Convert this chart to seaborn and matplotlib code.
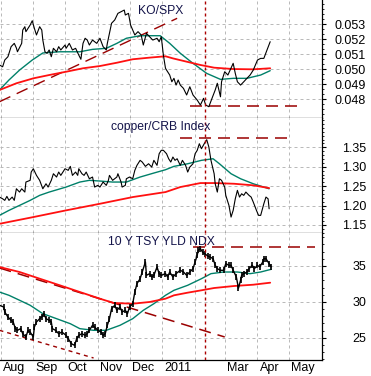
import pandas as pd
import numpy as np
import seaborn as sns
import matplotlib.pyplot as plt
import matplotlib.dates as mdates
from matplotlib.ticker import FixedLocator, MultipleLocator, AutoMinorLocator, FormatStrFormatter
from matplotlib.transforms import ScaledTranslation

# ---- data ----
ko_dates = ['2010-07-31','2010-08-03','2010-08-05','2010-08-08','2010-08-11','2010-08-14','2010-08-16','2010-08-17',
            '2010-08-21','2010-08-22','2010-08-24','2010-08-25','2010-08-29','2010-08-31','2010-09-02','2010-09-04',
            '2010-09-07','2010-09-09','2010-09-10','2010-09-12','2010-09-14','2010-09-16','2010-09-18','2010-09-20',
            '2010-09-23','2010-09-25','2010-09-27','2010-10-01','2010-10-02','2010-10-05','2010-10-08','2010-10-11',
            '2010-10-14','2010-10-16','2010-10-18','2010-10-20','2010-10-22','2010-10-24','2010-10-27','2010-10-31',
            '2010-11-03','2010-11-06','2010-11-09','2010-11-10','2010-11-12','2010-11-14','2010-11-17','2010-11-20',
            '2010-11-23','2010-11-26','2010-11-27','2010-11-30','2010-12-02','2010-12-04','2010-12-06','2010-12-09',
            '2010-12-12','2010-12-14','2010-12-17','2010-12-20','2010-12-23','2010-12-27','2010-12-29','2010-12-31',
            '2011-01-02','2011-01-04','2011-01-05','2011-01-08','2011-01-10','2011-01-12','2011-01-14','2011-01-16',
            '2011-01-18','2011-01-21','2011-01-24','2011-01-27','2011-01-30','2011-02-03','2011-02-06','2011-02-09',
            '2011-02-11','2011-02-14','2011-02-17','2011-02-20','2011-02-22','2011-02-25','2011-02-26','2011-03-01',
            '2011-03-04','2011-03-09','2011-03-11','2011-03-13','2011-03-16','2011-03-19','2011-03-22','2011-03-25',
            '2011-03-28','2011-04-01','2011-04-04','2011-04-07','2011-04-10','2011-04-13']
ko_vals = [0.05029,0.05017,0.05062,0.05084,0.05151,0.05173,0.05142,0.05117,
           0.05173,0.05262,0.05284,0.05251,0.05295,0.05324,0.05273,0.05229,
           0.05284,0.05262,0.05195,0.05117,0.05107,0.05129,0.05084,0.05140,
           0.05117,0.05151,0.05129,0.05162,0.05140,0.05173,0.05129,0.05140,
           0.05095,0.05067,0.05173,0.05207,0.05195,0.05162,0.05195,0.05173,
           0.05207,0.05151,0.05129,0.05173,0.05240,0.05307,0.05329,0.05373,
           0.05384,0.05395,0.05362,0.05373,0.05295,0.05262,0.05229,0.05251,
           0.05229,0.05162,0.05240,0.05217,0.05195,0.05207,0.05184,0.05217,
           0.05095,0.05007,0.04995,0.04962,0.04917,0.04940,0.04895,0.04929,
           0.04895,0.04873,0.04829,0.04884,0.04829,0.04795,0.04762,0.04807,
           0.04762,0.04751,0.04807,0.04862,0.04907,0.04817,0.04917,0.04984,
           0.04962,0.05040,0.04973,0.04917,0.04895,0.04917,0.04940,0.04962,
           0.04995,0.05062,0.05073,0.05073,0.05129,0.05184]
ko_fast_dates = ['2010-07-31','2010-08-09','2010-08-19','2010-08-31','2010-09-10','2010-09-26','2010-10-15','2010-10-27',
                 '2010-11-09','2010-11-19','2010-11-28','2010-12-11','2010-12-30','2011-01-08','2011-01-18','2011-01-30',
                 '2011-02-12','2011-02-25','2011-03-09','2011-03-22','2011-04-04','2011-04-13']
ko_fast = [0.04862,0.04929,0.04995,0.05062,0.05109,0.05117,0.05117,0.05133,
           0.05140,0.05173,0.05207,0.05224,0.05224,0.05173,0.05107,0.05040,
           0.04973,0.04933,0.04940,0.04940,0.04962,0.04991]
ko_slow_dates = ['2010-07-31','2010-08-16','2010-09-01','2010-09-16','2010-10-02','2010-10-18','2010-11-03','2010-11-19',
                 '2010-12-04','2010-12-20','2011-01-04','2011-01-11','2011-01-24','2011-02-06','2011-02-19','2011-03-09',
                 '2011-03-28','2011-04-13']
ko_slow = [0.04862,0.04907,0.04940,0.04962,0.04984,0.05007,0.05022,0.05044,
           0.05067,0.05078,0.05087,0.05073,0.05051,0.05029,0.05011,0.05002,
           0.05000,0.05007]

cu_dates = ['2010-07-31','2010-08-03','2010-08-05','2010-08-07','2010-08-09','2010-08-12','2010-08-14','2010-08-16',
            '2010-08-19','2010-08-21','2010-08-24','2010-08-25','2010-08-29','2010-08-30','2010-09-01','2010-09-04',
            '2010-09-07','2010-09-10','2010-09-13','2010-09-15','2010-09-18','2010-09-20','2010-09-23','2010-09-25',
            '2010-09-27','2010-10-01','2010-10-04','2010-10-06','2010-10-08','2010-10-11','2010-10-13','2010-10-14',
            '2010-10-17','2010-10-19','2010-10-21','2010-10-24','2010-10-27','2010-10-29','2010-11-01','2010-11-03',
            '2010-11-06','2010-11-09','2010-11-11','2010-11-12','2010-11-15','2010-11-19','2010-11-20','2010-11-23',
            '2010-11-24','2010-11-27','2010-11-28','2010-12-01','2010-12-04','2010-12-06','2010-12-08','2010-12-11',
            '2010-12-13','2010-12-16','2010-12-19','2010-12-22','2010-12-24','2010-12-27','2010-12-29','2010-12-31',
            '2011-01-02','2011-01-05','2011-01-07','2011-01-09','2011-01-11','2011-01-13','2011-01-15','2011-01-18',
            '2011-01-20','2011-01-23','2011-01-25','2011-01-27','2011-01-30','2011-02-01','2011-02-03','2011-02-05',
            '2011-02-07','2011-02-10','2011-02-12','2011-02-14','2011-02-16','2011-02-19','2011-02-20','2011-02-22',
            '2011-02-24','2011-02-26','2011-03-01','2011-03-02','2011-03-05','2011-03-07','2011-03-09','2011-03-11',
            '2011-03-13','2011-03-15','2011-03-17','2011-03-19','2011-03-21','2011-03-24','2011-03-26','2011-03-28',
            '2011-03-31','2011-04-02','2011-04-04','2011-04-07','2011-04-09','2011-04-11','2011-04-12']
cu_vals = [1.2219,1.2175,1.2134,1.2237,1.2134,1.2219,1.2134,1.2433,
           1.2348,1.2433,1.2348,1.2606,1.2650,1.2863,1.2949,1.2778,
           1.2650,1.2433,1.2562,1.2477,1.2650,1.2820,1.2735,1.2863,
           1.2778,1.2949,1.2907,1.3010,1.2778,1.2863,1.2778,1.2949,
           1.2820,1.2778,1.2863,1.2691,1.2735,1.2477,1.2521,1.2477,
           1.2606,1.2521,1.2650,1.2778,1.2650,1.2735,1.2820,1.2606,
           1.2477,1.2521,1.2691,1.2735,1.2691,1.2907,1.3036,1.3165,
           1.3121,1.3010,1.3077,1.2992,1.3165,1.3036,1.3335,1.3423,
           1.3423,1.3335,1.3206,1.3121,1.3250,1.3165,1.3206,1.3036,
           1.3165,1.3036,1.2863,1.2992,1.3077,1.3335,1.3423,1.3593,
           1.3464,1.3611,1.3696,1.3508,1.3165,1.2820,1.2562,1.2348,
           1.2691,1.2650,1.2477,1.2263,1.2005,1.1704,1.1877,1.2175,
           1.2392,1.2219,1.2304,1.2263,1.2348,1.2263,1.2219,1.2090,
           1.1877,1.1748,1.1748,1.2047,1.2219,1.2175,1.1918]
cu_fast_dates = ['2010-07-31','2010-08-09','2010-08-19','2010-08-29','2010-09-07','2010-09-16','2010-10-02','2010-10-15',
                 '2010-10-24','2010-11-03','2010-11-15','2010-11-28','2010-12-11','2010-12-24','2011-01-04','2011-01-12',
                 '2011-01-25','2011-02-07','2011-02-18','2011-02-24','2011-03-07','2011-03-16','2011-03-28','2011-04-07',
                 '2011-04-12']
cu_fast = [1.1748,1.1877,1.2005,1.2134,1.2263,1.2348,1.2477,1.2606,
           1.2650,1.2632,1.2606,1.2606,1.2735,1.2838,1.2923,1.3010,
           1.3077,1.3165,1.3206,1.3077,1.2820,1.2691,1.2562,1.2477,
           1.2433]
cu_slow_dates = ['2010-07-31','2010-09-01','2010-10-02','2010-11-03','2010-12-04','2011-01-04','2011-01-18','2011-02-06',
                 '2011-02-19','2011-03-10','2011-03-28','2011-04-12']
cu_slow = [1.1531,1.1704,1.1877,1.2047,1.2219,1.2348,1.2477,1.2580,
           1.2580,1.2562,1.2521,1.2451]

ty_dates = ['2010-07-31','2010-08-04','2010-08-05','2010-08-08','2010-08-11','2010-08-13','2010-08-15','2010-08-17',
            '2010-08-20','2010-08-22','2010-08-25','2010-08-27','2010-08-29','2010-09-01','2010-09-02','2010-09-04',
            '2010-09-07','2010-09-09','2010-09-11','2010-09-13','2010-09-16','2010-09-18','2010-09-19','2010-09-22',
            '2010-09-25','2010-09-28','2010-10-02','2010-10-04','2010-10-07','2010-10-10','2010-10-12','2010-10-14',
            '2010-10-17','2010-10-20','2010-10-22','2010-10-24','2010-10-27','2010-10-29','2010-11-01','2010-11-04',
            '2010-11-06','2010-11-08','2010-11-10','2010-11-12','2010-11-14','2010-11-17','2010-11-19','2010-11-22',
            '2010-11-24','2010-11-27','2010-11-29','2010-12-01','2010-12-04','2010-12-06','2010-12-08','2010-12-11',
            '2010-12-13','2010-12-16','2010-12-17','2010-12-20','2010-12-22','2010-12-24','2010-12-27','2010-12-29',
            '2010-12-31','2011-01-04','2011-01-06','2011-01-08','2011-01-11','2011-01-14','2011-01-18','2011-01-21',
            '2011-01-24','2011-01-27','2011-01-30','2011-02-01','2011-02-03','2011-02-04','2011-02-06','2011-02-08',
            '2011-02-10','2011-02-13','2011-02-15','2011-02-18','2011-02-20','2011-02-22','2011-02-25','2011-02-28',
            '2011-03-02','2011-03-05','2011-03-07','2011-03-09','2011-03-12','2011-03-14','2011-03-16','2011-03-17',
            '2011-03-19','2011-03-22','2011-03-24','2011-03-27','2011-03-29','2011-04-01','2011-04-03','2011-04-06',
            '2011-04-07','2011-04-09','2011-04-12','2011-04-14']
ty_vals = [29.52,29.28,28.58,27.89,27.43,27.19,26.26,26.03,
           26.26,25.56,25.10,26.03,25.79,25.10,26.49,27.19,
           27.65,27.89,28.35,27.65,27.43,27.19,26.26,26.03,
           25.56,25.79,25.33,24.86,24.16,23.94,24.86,25.33,
           25.56,25.33,25.56,26.03,26.73,26.49,26.03,25.79,
           25.33,25.56,26.73,27.65,29.04,29.52,28.82,29.28,
           28.58,28.82,28.35,29.28,29.74,31.37,32.53,33.23,
           34.16,35.56,33.70,33.93,33.47,33.70,34.86,33.93,
           33.70,33.93,33.47,34.16,33.47,33.93,34.40,34.16,
           33.70,34.16,34.62,35.56,36.49,37.19,37.41,36.95,
           36.72,36.39,36.26,36.02,35.10,34.62,34.40,34.40,
           35.32,35.10,35.10,34.40,33.47,31.90,33.01,33.70,
           33.93,34.16,34.62,35.10,34.62,35.10,34.86,35.56,
           36.02,36.02,35.32,34.86]
ty_fast_dates = ['2010-07-31','2010-08-09','2010-08-19','2010-08-29','2010-09-10','2010-09-23','2010-10-06','2010-10-15',
                 '2010-10-28','2010-11-09','2010-11-22','2010-12-04','2010-12-14','2010-12-24','2011-01-04','2011-01-12',
                 '2011-01-25','2011-02-07','2011-02-16','2011-02-28','2011-03-13','2011-03-25','2011-04-04','2011-04-14']
ty_fast = [31.37,30.91,30.22,29.52,28.35,27.65,26.95,26.26,
           26.03,26.03,26.73,27.65,28.82,29.74,30.91,31.61,
           32.31,33.23,33.93,34.16,34.16,33.93,34.16,34.54]
ty_slow_dates = ['2010-07-31','2010-08-19','2010-09-07','2010-09-26','2010-10-15','2010-11-03','2010-11-16','2010-12-04',
                 '2010-12-20','2011-01-04','2011-01-12','2011-01-25','2011-02-07','2011-02-19','2011-03-10','2011-03-28',
                 '2011-04-13']
ty_slow = [34.86,34.16,33.23,32.31,31.37,30.44,29.84,29.74,
           29.98,30.44,30.91,31.28,31.61,31.93,32.21,32.39,
           32.67]

# trend / reference lines (start, end)
ko_trend_dates = ['2010-07-31', '2011-01-15']
ko_trend = [0.04784, 0.05340]
ko_level_dates = ['2011-01-27', '2011-05-10']
ko_level = 0.04755
cu_level_dates = ['2011-01-18', '2011-05-03']
cu_level = 1.3732
ty_level_dates = ['2011-01-30', '2011-05-25']
ty_level = 37.69
ty_trend1_dates = ['2010-07-31', '2011-03-01']
ty_trend1 = [34.72, 25.10]
ty_trend2_dates = ['2010-07-31', '2010-10-28']
ty_trend2 = [26.03, 22.17]
event_date = '2011-02-10'

month_starts = ['2010-08-01','2010-09-01','2010-10-01','2010-11-01','2010-12-01',
                '2011-01-01','2011-02-01','2011-03-01','2011-04-01','2011-05-01']
month_labels = ['Aug','Sep','Oct','Nov','Dec','2011','','Mar','Apr','May']

panel_titles = ['KO/SPX', 'copper/CRB Index', '10 Y TSY YLD NDX']

# ---- style ----
sns.set_style('white')
plt.rcParams['font.family'] = ['Liberation Sans', 'DejaVu Sans']
plt.rcParams['lines.scale_dashes'] = False
plt.rcParams['axes.linewidth'] = 0.9

PX = 0.72  # points per pixel at 100 dpi
BLACK = '#000000'
TEAL = '#008069'
RED = '#ff1010'
DRED = '#9a0000'
GRID = '#b8b8b8'
TXT = '#14144a'

fig = plt.figure(figsize=(3.71, 3.76), dpi=100)
W = 322 / 371
ax1 = fig.add_axes([0, 1 - 117.5 / 376, W, 117.5 / 376])
ax2 = fig.add_axes([0, 1 - 233 / 376, W, 115.5 / 376], sharex=ax1)
ax3 = fig.add_axes([0, 1 - 360 / 376, W, 127 / 376], sharex=ax1)
axes = [ax1, ax2, ax3]

def to_df(d, v):
    return pd.DataFrame({'date': pd.to_datetime(d), 'value': v})

def draw_panel(ax, price, fast, slow, price_kw=None):
    sns.lineplot(data=fast, x='date', y='value', ax=ax, color=TEAL, lw=1.0,
                 estimator=None, legend=False, zorder=3)
    sns.lineplot(data=slow, x='date', y='value', ax=ax, color=RED, lw=1.3,
                 estimator=None, legend=False, zorder=3)
    kw = dict(color=BLACK, lw=0.8, zorder=4)
    if price_kw:
        kw.update(price_kw)
    sns.lineplot(data=price, x='date', y='value', ax=ax, estimator=None, legend=False, **kw)

long_dash = (0, (12 * PX, 7 * PX))
short_dash = (0, (4 * PX, 4 * PX))

draw_panel(ax1, to_df(ko_dates, ko_vals), to_df(ko_fast_dates, ko_fast), to_df(ko_slow_dates, ko_slow))
ax1.plot(pd.to_datetime(ko_trend_dates), ko_trend, color=DRED, lw=1.0, ls=long_dash, zorder=2)
ax1.plot(pd.to_datetime(ko_level_dates), [ko_level] * 2, color=DRED, lw=1.1, ls=long_dash, zorder=2)

draw_panel(ax2, to_df(cu_dates, cu_vals), to_df(cu_fast_dates, cu_fast), to_df(cu_slow_dates, cu_slow))
ax2.plot(pd.to_datetime(cu_level_dates), [cu_level] * 2, color=DRED, lw=1.1, ls=long_dash, zorder=2)

draw_panel(ax3, to_df(ty_dates, ty_vals), to_df(ty_fast_dates, ty_fast), to_df(ty_slow_dates, ty_slow),
           price_kw=dict(lw=1.0, marker='|', markersize=5, markeredgewidth=1.2, markeredgecolor=BLACK))
ax3.plot(pd.to_datetime(ty_level_dates), [ty_level] * 2, color=DRED, lw=1.1, ls=long_dash, zorder=2)
ax3.plot(pd.to_datetime(ty_trend1_dates), ty_trend1, color=DRED, lw=1.1, ls=long_dash, zorder=2)
ax3.plot(pd.to_datetime(ty_trend2_dates), ty_trend2, color=DRED, lw=1.0, ls=short_dash, zorder=2)

# y axes
ylims = [(0.04679, 0.05462), (1.1294, 1.4268), (21.89, 39.6)]
yticks = [[0.048, 0.049, 0.050, 0.051, 0.052, 0.053], [1.15, 1.20, 1.25, 1.30, 1.35], [25, 30, 35]]
yfmt = ['%.3f', '%.2f', '%d']
minors = [AutoMinorLocator(3), MultipleLocator(0.01), MultipleLocator(1)]

for i, ax in enumerate(axes):
    ax.set_ylim(*ylims[i])
    ax.yaxis.set_major_locator(FixedLocator(yticks[i]))
    ax.yaxis.set_major_formatter(FormatStrFormatter(yfmt[i]))
    ax.yaxis.set_minor_locator(minors[i])
    ax.yaxis.tick_right()
    ax.tick_params(axis='y', which='major', direction='out', length=4 * PX, width=0.8,
                   pad=40 * PX, labelsize=9, colors=BLACK)
    ax.tick_params(axis='y', which='minor', direction='out', length=2.5 * PX, width=0.7)
    plt.setp(ax.get_yticklabels(), ha='right')
    ax.set_xlabel('')
    ax.set_ylabel('')
    for side in ['top', 'left']:
        ax.spines[side].set_visible(False)
    ax.spines['right'].set_color(BLACK)
    ax.spines['bottom'].set_color(BLACK)
    ax.grid(True, which='major', axis='both', color=GRID, lw=0.7, ls=(0, (3 * PX, 3 * PX)))
    ax.set_axisbelow(True)
    ax.axvline(pd.Timestamp(event_date), color='#aa0000', lw=1.0, ls=(0, (3 * PX, 3 * PX)), zorder=5)
    ax.text(0.5, [0.905, 0.915, 0.928][i], panel_titles[i], transform=ax.transAxes,
            ha='center', va='center', fontsize=8.7, color=TXT, zorder=6)

ax1.set_xlim(pd.Timestamp('2010-07-31 12:00'), pd.Timestamp('2011-06-01'))
ax3.set_xticks(pd.to_datetime(month_starts))
ax3.set_xticklabels(month_labels)
for ax in [ax1, ax2]:
    ax.tick_params(axis='x', which='both', length=0, labelbottom=False)
ax3.tick_params(axis='x', which='major', direction='out', length=16 * PX, width=0.8,
                pad=-14 * PX, labelsize=9, colors=BLACK)
offset = ScaledTranslation(2 / 100, 0, fig.dpi_scale_trans)
for lab in ax3.get_xticklabels():
    lab.set_horizontalalignment('left')
    lab.set_transform(lab.get_transform() + offset)

fig.savefig('out.png', dpi=100)
